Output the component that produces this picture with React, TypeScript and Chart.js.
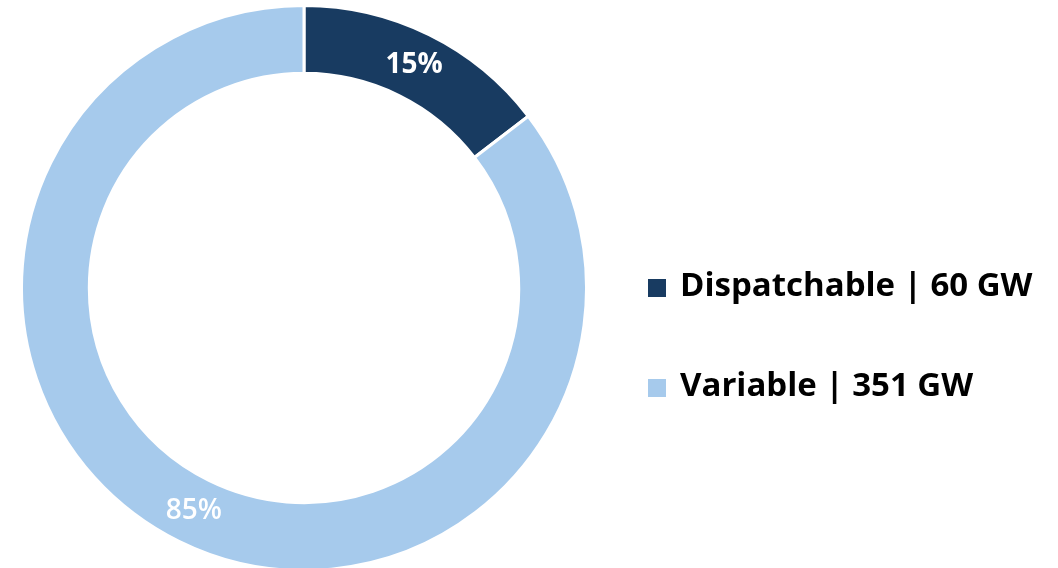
import React, { useEffect, useRef } from "react";
import { Chart, registerables } from "chart.js";

Chart.register(...registerables);

const categories = ["Dispatchable", "Variable"];
const capacityGW = [60, 351];
const percentLabels = ["15%", "85%"];
const legendLabels = ["Dispatchable | 60 GW", "Variable | 351 GW"];
const colors = ["#183B61", "#A6CAEC"];
const labelWeights = ["bold", "600"];

const FONT = "'Open Sans', 'Liberation Sans', Arial, sans-serif";

const sliceLabelPlugin = {
  id: "sliceLabels",
  afterDatasetsDraw(chart: any) {
    const ctx = chart.ctx;
    const meta = chart.getDatasetMeta(0);
    ctx.save();
    meta.data.forEach((arc: any, i: number) => {
      const p = arc.tooltipPosition();
      ctx.fillStyle = "#ffffff";
      ctx.font = `${labelWeights[i]} 28px ${FONT}`;
      ctx.textAlign = "center";
      ctx.textBaseline = "middle";
      ctx.fillText(percentLabels[i], p.x, p.y);
    });
    ctx.restore();
  },
};

const sideLegendPlugin = {
  id: "sideLegend",
  afterDraw(chart: any) {
    const ctx = chart.ctx;
    const area = chart.chartArea;
    const x0 = area.right + 60;
    const cy = (area.top + area.bottom) / 2;
    const rowGap = 100;
    ctx.save();
    legendLabels.forEach((txt, i) => {
      const y = cy + i * rowGap;
      ctx.fillStyle = colors[i];
      ctx.fillRect(x0, y - 9, 18, 18);
      ctx.fillStyle = "#000000";
      ctx.font = `bold 33px ${FONT}`;
      ctx.textAlign = "left";
      ctx.textBaseline = "middle";
      ctx.fillText(txt, x0 + 32, y - 1);
    });
    ctx.restore();
  },
};

export default function App() {
  const ref = useRef<HTMLCanvasElement | null>(null);
  useEffect(() => {
    if (!ref.current) return;
    const chart = new Chart(ref.current, {
      type: "doughnut",
      data: {
        labels: categories,
        datasets: [
          {
            data: capacityGW,
            backgroundColor: colors,
            borderColor: "#ffffff",
            borderWidth: 3,
            hoverOffset: 0,
          },
        ],
      },
      options: {
        animation: false,
        responsive: false,
        cutout: "76%",
        layout: { padding: { left: 20, right: 470, top: 4, bottom: 0 } },
        plugins: {
          legend: { display: false },
          tooltip: { enabled: false },
        },
      },
      plugins: [sliceLabelPlugin, sideLegendPlugin],
    });
    return () => chart.destroy();
  }, []);
  return (
    <div style={{ position: "fixed", left: 0, top: 0, width: 1058, height: 568, overflow: "hidden", background: "#fff" }}>
      <canvas ref={ref} width={1058} height={572} style={{ display: "block" }} />
    </div>
  );
}
